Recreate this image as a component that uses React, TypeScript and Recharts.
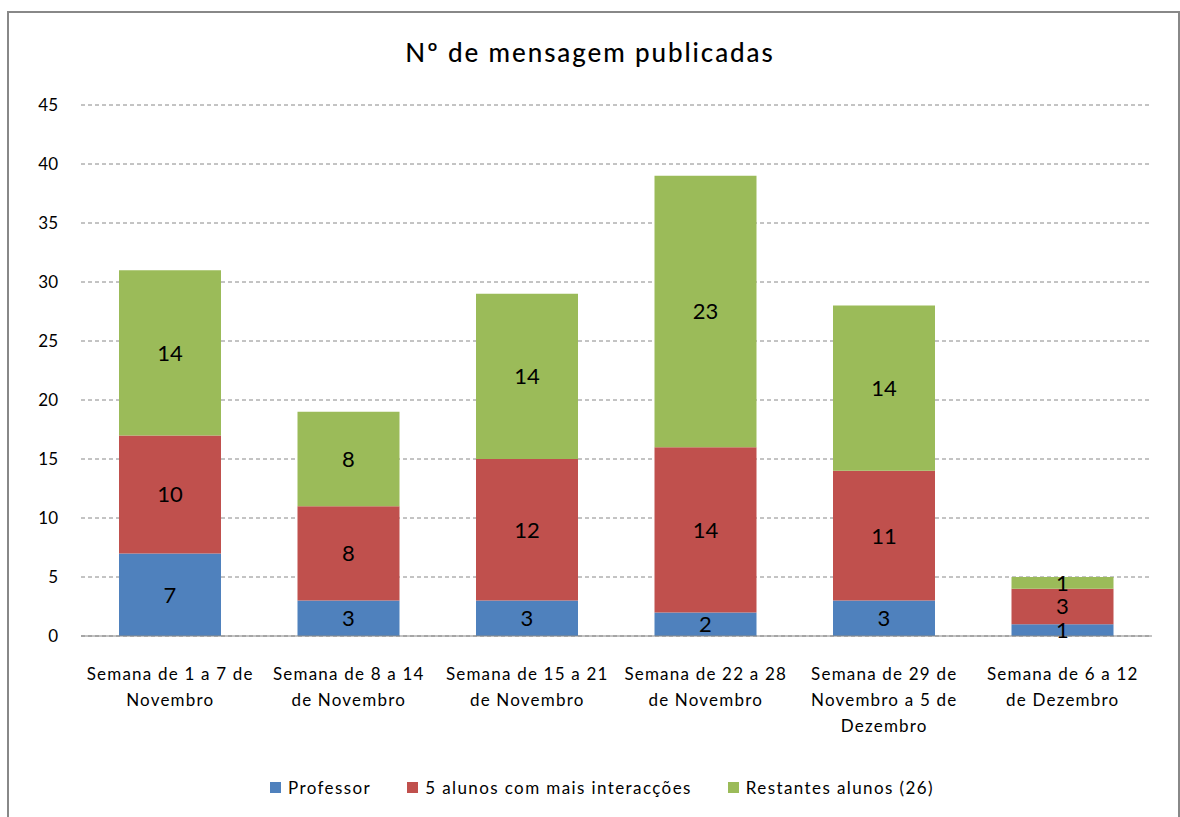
import { Bar, BarChart, CartesianGrid, LabelList, Legend, XAxis, YAxis } from "recharts";

const weeks = [
  "Semana de 1 a 7 de Novembro",
  "Semana de 8 a 14 de Novembro",
  "Semana de 15 a 21 de Novembro",
  "Semana de 22 a 28 de Novembro",
  "Semana de 29 de Novembro a 5 de Dezembro",
  "Semana de 6 a 12 de Dezembro",
];
const weekLines = [
  ["Semana de 1 a 7 de", "Novembro"],
  ["Semana de 8 a 14", "de Novembro"],
  ["Semana de 15 a 21", "de Novembro"],
  ["Semana de 22 a 28", "de Novembro"],
  ["Semana de 29 de", "Novembro a 5 de", "Dezembro"],
  ["Semana de 6 a 12", "de Dezembro"],
];
const professor = [7, 3, 3, 2, 3, 1];
const topStudents = [10, 8, 12, 14, 11, 3];
const otherStudents = [14, 8, 14, 23, 14, 1];
const yTicks = [0, 5, 10, 15, 20, 25, 30, 35, 40, 45];

const series = [
  { key: "professor", name: "Professor", color: "#4F81BD" },
  { key: "top", name: "5 alunos com mais interacções", color: "#C0504D" },
  { key: "others", name: "Restantes alunos (26)", color: "#9BBB59" },
];

const data = weeks.map((week, i) => ({
  week,
  professor: professor[i],
  top: topStudents[i],
  others: otherStudents[i],
}));

const FONT = "Lato, 'Open Sans', sans-serif";

function WeekTick({ x, y, index }: any) {
  const lines = weekLines[index] ?? [];
  return (
    <text x={x} y={y} textAnchor="middle" fontFamily={FONT} fontSize={17} letterSpacing={1.2} fill="#000">
      {lines.map((line, i) => (
        <tspan key={i} x={x} dy={i === 0 ? 36 : 26}>
          {line}
        </tspan>
      ))}
    </text>
  );
}

function LegendContent() {
  return (
    <div
      style={{
        display: "flex",
        alignItems: "center",
        gap: 36,
        fontFamily: FONT,
        fontSize: 17,
        letterSpacing: 1.4,
        color: "#000",
        whiteSpace: "nowrap",
      }}
    >
      {series.map((s) => (
        <span key={s.key} style={{ display: "flex", alignItems: "center", gap: 7 }}>
          <span style={{ width: 11, height: 11, background: s.color, display: "inline-block" }} />
          {s.name}
        </span>
      ))}
    </div>
  );
}

export default function App() {
  return (
    <div style={{ position: "fixed", left: 0, top: 0, width: 1180, height: 817, background: "#fff", overflow: "hidden" }}>
      <div
        style={{
          position: "absolute",
          left: 7,
          top: 11,
          width: 1173,
          height: 830,
          border: "2px solid #888",
          boxSizing: "border-box",
        }}
      />
      <div
        style={{
          position: "absolute",
          left: 0,
          width: 1180,
          top: 36,
          textAlign: "center",
          fontFamily: FONT,
          fontSize: 26,
          fontWeight: 500,
          letterSpacing: 1.9,
          color: "#000",
        }}
      >
        Nº de mensagem publicadas
      </div>
      <BarChart width={1180} height={817} data={data} margin={{ top: 105, right: 28, bottom: 81, left: 21 }}>
        <CartesianGrid vertical={false} stroke="#888" strokeDasharray="4 3" />
        <XAxis
          dataKey="week"
          height={100}
          interval={0}
          tickLine={false}
          axisLine={{ stroke: "#888" }}
          tick={<WeekTick />}
        />
        <YAxis
          width={60}
          domain={[0, 45]}
          ticks={yTicks}
          axisLine={false}
          tickLine={false}
          tickSize={0}
          tickMargin={23}
          tick={{ fontFamily: FONT, fontSize: 17, fill: "#000" }}
        />
        <Legend
          verticalAlign="middle"
          align="center"
          content={<LegendContent />}
          wrapperStyle={{ top: 777, left: 270, width: 900 }}
        />
        {series.map((s) => (
          <Bar key={s.key} dataKey={s.key} name={s.name} stackId="a" fill={s.color} barSize={102} isAnimationActive={false}>
            <LabelList dataKey={s.key} position="center" fill="#000" fontSize={22} fontFamily={FONT} />
          </Bar>
        ))}
      </BarChart>
    </div>
  );
}
